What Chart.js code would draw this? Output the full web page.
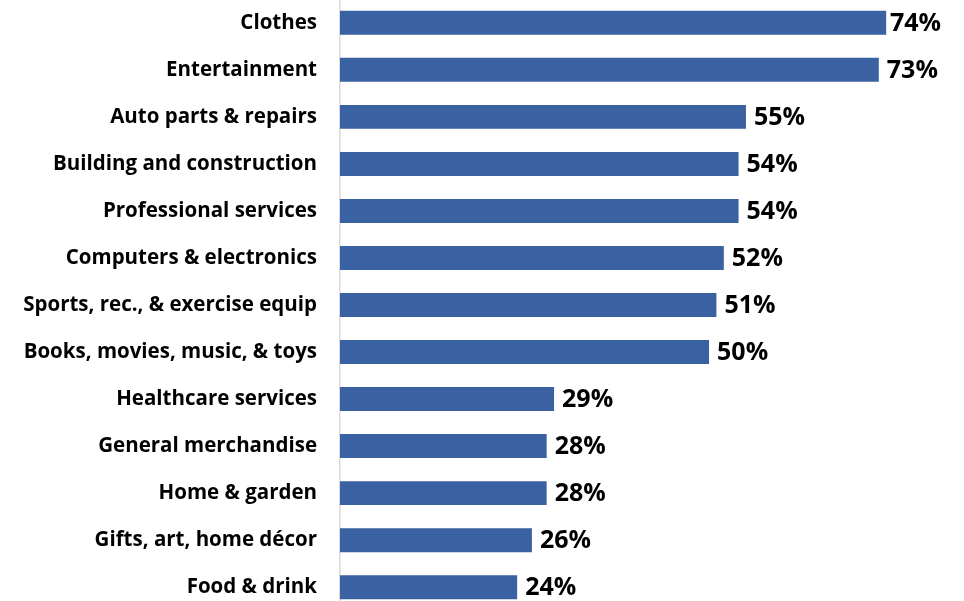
<!DOCTYPE html>
<html>
<head>
<meta charset="utf-8">
<script src="https://cdn.jsdelivr.net/npm/chart.js@4/dist/chart.umd.min.js"></script>
<style>
  html, body { margin: 0; padding: 0; background: #ffffff; overflow: hidden; }
  /* the canvas is taller than the page so the plot fills it edge to edge */
  #wrap { position: absolute; left: 0; top: -36px; width: 964px; height: 682px; }
</style>
</head>
<body>
<div id="wrap"><canvas id="c" width="964" height="682"></canvas></div>
<script>
const categories = [
  'Clothes',
  'Entertainment',
  'Auto parts & repairs',
  'Building and construction',
  'Professional services',
  'Computers & electronics',
  'Sports, rec., & exercise equip',
  'Books, movies, music, & toys',
  'Healthcare services',
  'General merchandise',
  'Home & garden',
  'Gifts, art, home décor',
  'Food & drink'
];
const shares = [74, 73, 55, 54, 54, 52, 51, 50, 29, 28, 28, 26, 24];

const BAR_BLUE = '#3a61a2';
const LABEL_FONT = '"Open Sans", Lato, sans-serif';
const LABEL_GAP = 8;        // space between a bar's end and its percent label
const LABEL_LIMIT = 941;    // labels are kept left of this x

// Percent labels written just past the end of each bar
const valueLabels = {
  id: 'valueLabels',
  afterDatasetsDraw(chart) {
    const ctx = chart.ctx;
    const meta = chart.getDatasetMeta(0);
    ctx.save();
    ctx.font = 'bold 25px ' + LABEL_FONT;
    ctx.fillStyle = '#000000';
    ctx.textAlign = 'left';
    ctx.textBaseline = 'middle';
    meta.data.forEach((bar, i) => {
      const text = shares[i] + '%';
      const w = ctx.measureText(text).width;
      const x = Math.min(bar.x + LABEL_GAP, LABEL_LIMIT - w);
      ctx.fillText(text, x, bar.y + 1);
    });
    ctx.restore();
  }
};

new Chart(document.getElementById('c'), {
  type: 'bar',
  data: {
    labels: categories,
    datasets: [{
      data: shares,
      backgroundColor: BAR_BLUE,
      borderWidth: 0,
      categoryPercentage: 1,
      barPercentage: 0.51
    }]
  },
  options: {
    indexAxis: 'y',
    responsive: false,
    animation: false,
    devicePixelRatio: 1,
    layout: { padding: { left: 0, right: 4, top: 0, bottom: 0 } },
    plugins: {
      legend: { display: false },
      tooltip: { enabled: false }
    },
    scales: {
      x: {
        display: false,
        min: 0,
        max: 84
      },
      y: {
        afterFit(scale) { scale.width = 340; },
        grid: { display: false, drawTicks: false },
        border: { display: true, color: '#d9d9d9', width: 1.5 },
        ticks: {
          padding: 23,
          color: '#000000',
          font: { family: LABEL_FONT, size: 20.5, weight: 'bold' }
        }
      }
    }
  },
  plugins: [valueLabels]
});
</script>
</body>
</html>
